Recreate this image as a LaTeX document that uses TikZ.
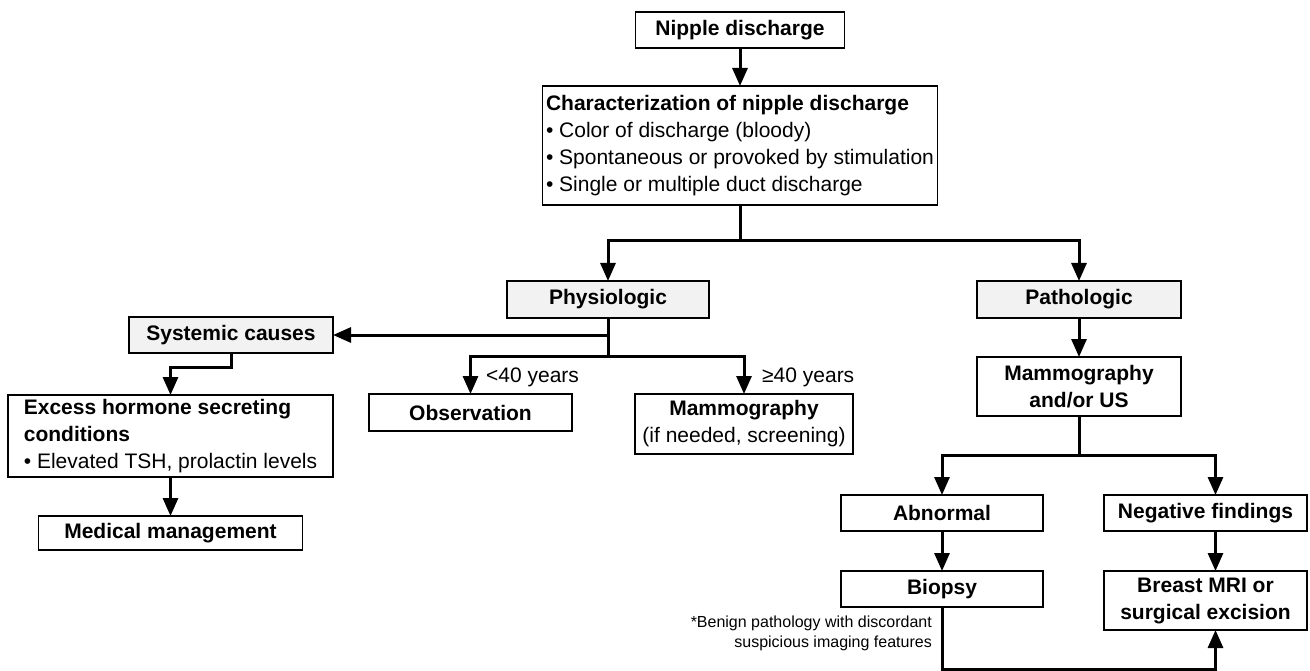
\documentclass[tikz,border=0pt]{standalone}
\usepackage{fontspec}
\setmainfont{Liberation Sans}
\usepackage{tikz}
\usetikzlibrary{positioning,arrows.meta}
\definecolor{boxgray}{HTML}{F2F2F2}
\tikzset{
    box/.style={draw, line width=1.3pt, inner sep=0pt, outer sep=0pt, font=\fontsize{21}{27}\selectfont},
    shadedbox/.style={box, fill=boxgray},
    wire/.style={line width=3pt},
    conn/.style={wire, ->},
    lbl/.style={inner sep=0pt, font=\fontsize{21}{27}\selectfont},
    note/.style={inner sep=0pt, align=right, font=\fontsize{16}{19.5}\selectfont}
}

\begin{document}
\begin{tikzpicture}[x=1pt, y=-1pt, >={Triangle[width=15pt,length=18pt]}]
        \useasboundingbox (0,0) rectangle (1310,671);
        \node[box, minimum width=209pt, minimum height=36pt] (nipple) at (740,30) {\bfseries Nipple discharge};
        \node[box, align=left, minimum width=395pt, minimum height=119pt, below=38pt of nipple] (charact)
            {\bfseries Characterization of nipple discharge\\• Color of discharge (bloody)\\• Spontaneous or provoked by stimulation\\• Single or multiple duct discharge};
        \node[shadedbox, minimum width=202pt, minimum height=37pt] (physio) at (608,299.5) {\bfseries Physiologic};
        \node[shadedbox, minimum width=204pt, minimum height=37pt, right=268pt of physio] (patho) {\bfseries Pathologic};
        \node[shadedbox, minimum width=204pt, minimum height=36pt] (systemic) at (231,335) {\bfseries Systemic causes};
        \node[box, minimum width=203pt, minimum height=37pt] (observ) at (470.5,412.5) {\bfseries Observation};
        \node[box, align=center, minimum width=218pt, minimum height=60pt, anchor=north] (mammo) at (744,394)
            {\bfseries Mammography\\(if needed, screening)};
        \node[lbl, anchor=west] (young) at (486,377) {<40 years};
        \node[lbl, anchor=west] (old) at (762,377) {≥40 years};
        \node[box, align=left, minimum width=325pt, minimum height=82pt] (excess) at (170.5,436)
            {\bfseries Excess hormone secreting\\\bfseries conditions\\• Elevated TSH, prolactin levels};
        \node[box, minimum width=264pt, minimum height=34pt, below=39pt of excess] (medical) {\bfseries Medical management};
        \node[box, align=center, minimum width=204pt, minimum height=59pt, below=39pt of patho] (mammous)
            {\bfseries Mammography\\\bfseries and/or US};
        \node[box, minimum width=202pt, minimum height=36pt] (abnormal) at (942,513) {\bfseries Abnormal};
        \node[box, minimum width=203pt, minimum height=36pt, right=61pt of abnormal] (negative) {\bfseries Negative findings};
        \node[box, minimum width=202pt, minimum height=36pt, below=40pt of abnormal] (biopsy) {\bfseries Biopsy};
        \node[box, align=center, minimum width=203pt, minimum height=59pt, below=40pt of negative] (mri)
            {\bfseries Breast MRI or\\\bfseries surgical excision};
        \node[note, anchor=east] (footnote) at (932,633.5) {*Benign pathology with discordant\\suspicious imaging features};
        \coordinate (split) at (740,241);
        \coordinate (sysjoin) at (608,335);
        \coordinate (agesplit) at (608,356);
        \draw[conn] (nipple.south) -- (nipple.south |- charact.north);
        \draw[wire] (charact.south) -- (split);
        \draw[conn] (split) -| (physio.north);
        \draw[conn] (split) -| (patho.north);
        \draw[wire] (physio.south) -- (agesplit);
        \draw[conn] (sysjoin) -- (systemic.east);
        \draw[conn] (agesplit) -| (observ.north);
        \draw[conn] (agesplit) -| (mammo.north);
        \draw[conn] (systemic.south) -- ++(0,14) -| (excess.north);
        \draw[conn] (excess) -- (medical);
        \draw[conn] (patho) -- (mammous);
        \draw[wire] (mammous.south) -- ++(0,39) coordinate (imgsplit);
        \draw[conn] (imgsplit) -| (abnormal.north);
        \draw[conn] (imgsplit) -| ([xshift=10pt]negative.north);
        \draw[conn] (abnormal) -- (biopsy);
        \draw[conn] ([xshift=10pt]negative.south) -- ([xshift=10pt]mri.north);
        \draw[conn] (biopsy.south) -- ++(0,62) -| ([xshift=10pt]mri.south);
    \end{tikzpicture}
\end{document}
